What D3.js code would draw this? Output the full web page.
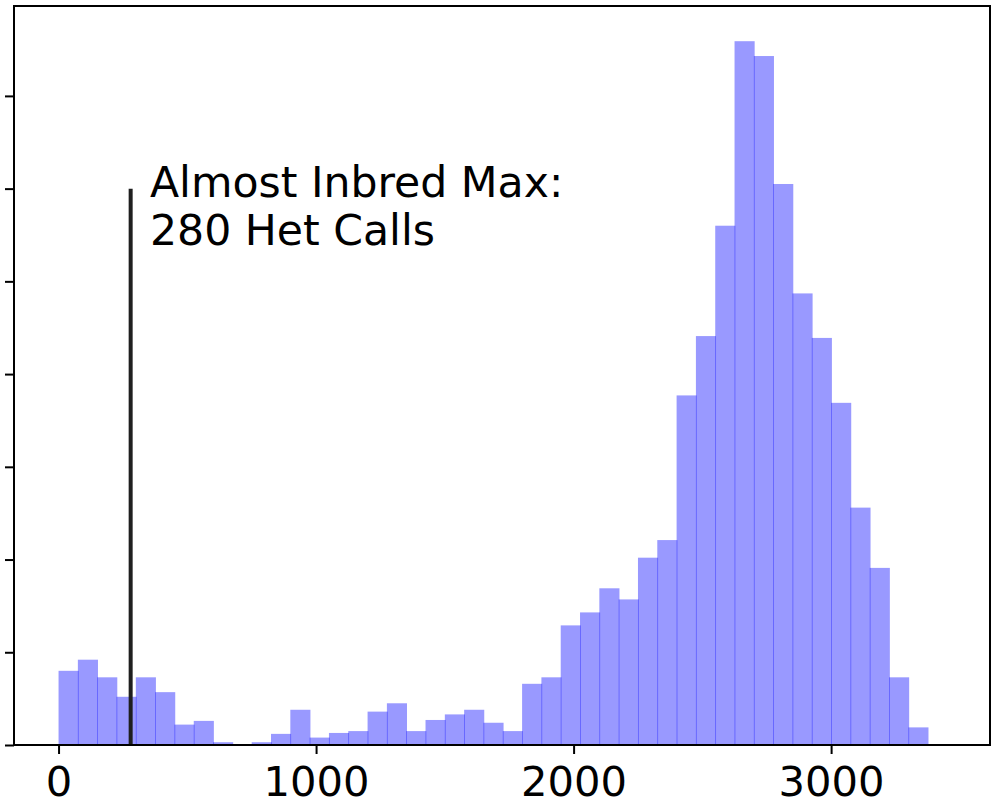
<!DOCTYPE html>
<html>
<head>
<meta charset="utf-8">
<script src="https://cdn.jsdelivr.net/npm/d3@7"></script>
<style>
    body { margin: 0; background: #fff; }
    svg { display: block; }
    text { font-family: "DejaVu Sans", sans-serif; }
</style>
</head>
<body>
<svg class="chart"></svg>
<script>
/* Het call histogram */

var binLefts = [0, 75, 150, 225, 300, 375, 450, 525, 600, 675,
    750, 825, 900, 975, 1050, 1125, 1200, 1275, 1350, 1425,
    1500, 1575, 1650, 1725, 1800, 1875, 1950, 2025, 2100, 2175,
    2250, 2325, 2400, 2475, 2550, 2625, 2700, 2775, 2850, 2925,
    3000, 3075, 3150, 3225, 3300];
var binWidth = 75;

var counts = [80, 92, 73, 52, 73, 57, 22, 26, 3, 1,
    3, 12, 38, 8, 13, 15, 36, 45, 15, 27,
    33, 38, 24, 15, 66, 73, 129, 143, 169, 157,
    202, 221, 377, 441, 560, 759, 743, 605, 487, 439,
    369, 256, 191, 73, 19];

var xTicks = [0, 1000, 2000, 3000];
var yTicks = [0, 100, 200, 300, 400, 500, 600, 700];

var cutoff = 280,
    cutoffTop = 600,
    noteLines = ['Almost Inbred Max:', '280 Het Calls'];

(function () {
    'use strict';

    /* Setup SVG */

    var width = 991,
        height = 799,
        left = 14,
        right = 990,
        top = 6,
        bottom = 745;

    var svg = d3.select('.chart')
        .attr('width', width)
        .attr('height', height);

    var x = d3.scaleLinear().domain([-173, 3617]).range([left, right]);
    var y = d3.scaleLinear().domain([0, d3.max(counts) * 1.05]).range([bottom, top]);

    /* Bars -- a little overlap gives the darker seams */

    svg.append('g')
        .selectAll('rect')
        .data(counts)
        .join('rect')
        .attr('x', function (d, i) { return x(binLefts[i]); })
        .attr('y', function (d) { return y(d); })
        .attr('width', function (d, i) { return x(binLefts[i] + binWidth) - x(binLefts[i]) + 0.8; })
        .attr('height', function (d) { return y(0) - y(d); })
        .style('fill', 'blue')
        .style('fill-opacity', 0.4);

    /* Cutoff line + note */

    svg.append('line')
        .attr('x1', x(cutoff)).attr('x2', x(cutoff))
        .attr('y1', y(0)).attr('y2', y(cutoffTop))
        .style('stroke', '#1f1f1f')
        .style('stroke-width', 4);

    svg.append('text')
        .attr('x', x(355))
        .attr('y', y(591))
        .style('font-size', '42.6px')
        .style('fill', '#000')
        .selectAll('tspan')
        .data(noteLines)
        .join('tspan')
        .attr('x', x(355))
        .attr('dy', function (d, i) { return i ? 48.5 : 0; })
        .text(function (d) { return d; });

    /* Axes */

    var xAxis = svg.append('g')
        .attr('transform', 'translate(0,' + bottom + ')')
        .call(d3.axisBottom(x).tickValues(xTicks).tickFormat(d3.format('d')).tickSize(9).tickPadding(12).tickSizeOuter(0));

    var yAxis = svg.append('g')
        .attr('transform', 'translate(' + left + ',0)')
        .call(d3.axisLeft(y).tickValues(yTicks).tickFormat('').tickSize(9).tickSizeOuter(0));

    [xAxis, yAxis].forEach(function (g) {
        g.select('.domain').remove();
        g.selectAll('.tick line').style('stroke', '#000').style('stroke-width', 2);
        g.selectAll('.tick text')
            .style('font-size', '41.67px')
            .style('font-family', '"DejaVu Sans", sans-serif')
            .style('fill', '#000');
    });

    /* Frame */

    svg.append('rect')
        .attr('x', left).attr('y', top)
        .attr('width', right - left).attr('height', bottom - top)
        .style('fill', 'none')
        .style('stroke', '#000')
        .style('stroke-width', 2);

})();
</script>
</body>
</html>
